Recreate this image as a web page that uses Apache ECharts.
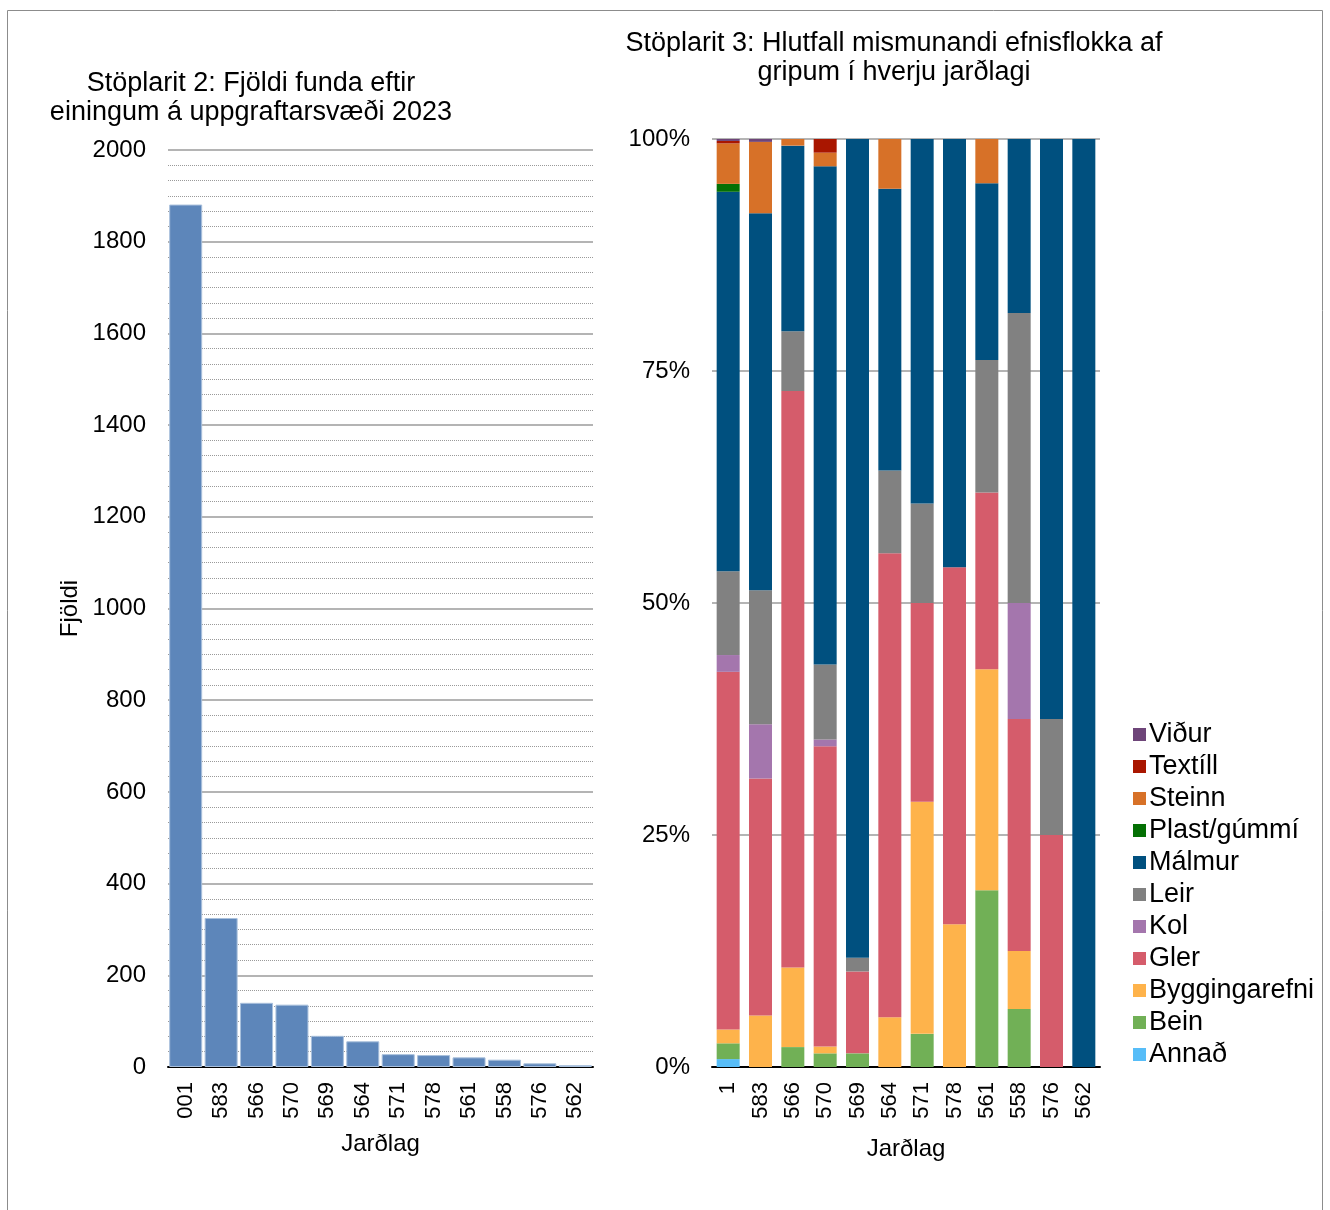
<!DOCTYPE html>
<html>
<head>
<meta charset="utf-8">
<script src="https://cdn.jsdelivr.net/npm/echarts@6/dist/echarts.min.js"></script>
<style>
html,body{margin:0;padding:0;background:#fff;}
#c{width:1330px;height:1210px;}
</style>
</head>
<body>
<div id="c"></div>
<script>
// ---- Chart 2: count of finds per layer ----
const layersLeft = ['001','583','566','570','569','564','571','578','561','558','576','562'];
const countsLeft = [1881, 325, 140, 136, 68, 56, 28, 26, 21, 16, 8, 4];

// ---- Chart 3: share of material categories per layer (counts -> %) ----
const layersRight = ['1','583','566','570','569','564','571','578','561','558','576','562'];
const annad        = [16, 0, 0, 0, 0, 0, 0, 0, 0, 0, 0, 0];
const bein         = [32, 0, 3, 2, 1, 0, 1, 0, 4, 1, 0, 0];
const byggingarefni= [28, 18, 12, 1, 0, 3, 7, 4, 5, 1, 0, 0];
const gler         = [725, 83, 87, 44, 6, 28, 6, 10, 4, 4, 2, 0];
const kol          = [34, 19, 0, 1, 0, 0, 0, 0, 0, 2, 0, 0];
const leir         = [170, 47, 9, 11, 1, 5, 3, 0, 3, 5, 1, 0];
const malmur       = [769, 132, 28, 73, 60, 17, 11, 12, 4, 3, 5, 4];
const plast        = [16, 0, 0, 0, 0, 0, 0, 0, 0, 0, 0, 0];
const steinn       = [82, 25, 1, 2, 0, 3, 0, 0, 1, 0, 0, 0];
const textill      = [5, 0, 0, 2, 0, 0, 0, 0, 0, 0, 0, 0];
const vidur        = [4, 1, 0, 0, 0, 0, 0, 0, 0, 0, 0, 0];

const yTicksLeft = {min: 0, max: 2000, interval: 200};
const yTicksRight = {min: 0, max: 100, interval: 25};

const materials = [
  {name:'Annað', data:annad, color:'#57bdf8'},
  {name:'Bein', data:bein, color:'#71b056'},
  {name:'Byggingarefni', data:byggingarefni, color:'#feb34b'},
  {name:'Gler', data:gler, color:'#d55c6b'},
  {name:'Kol', data:kol, color:'#a476ad'},
  {name:'Leir', data:leir, color:'#818181'},
  {name:'Málmur', data:malmur, color:'#00507f'},
  {name:'Plast/gúmmí', data:plast, color:'#047004'},
  {name:'Steinn', data:steinn, color:'#d77128'},
  {name:'Textíll', data:textill, color:'#a91600'},
  {name:'Viður', data:vidur, color:'#6e4579'}
];
const totals = layersRight.map((_, i) => materials.reduce((s, m) => s + m.data[i], 0));

const FONT = '"Liberation Sans", Arial, sans-serif';
const chart = echarts.init(document.getElementById('c'));

const rightSeries = materials.map(m => ({
  name: m.name,
  type: 'bar',
  stack: 'pct',
  xAxisIndex: 1,
  yAxisIndex: 1,
  barWidth: 23,
  itemStyle: {color: m.color},
  data: m.data.map((v, i) => +(v / totals[i] * 100).toFixed(3))
}));

chart.setOption({
  animation: false,
  textStyle: {fontFamily: FONT, color: '#000'},
  title: [
    {text: 'Stöplarit 2: Fjöldi funda eftir\neiningum á uppgraftarsvæði 2023', left: 246, top: 64, textAlign: 'center',
     textStyle: {fontFamily: FONT, fontSize: 27, fontWeight: 'normal', color: '#000', lineHeight: 29}},
    {text: 'Stöplarit 3: Hlutfall mismunandi efnisflokka af\ngripum í hverju jarðlagi', left: 889, top: 24, textAlign: 'center',
     textStyle: {fontFamily: FONT, fontSize: 27, fontWeight: 'normal', color: '#000', lineHeight: 29}}
  ],
  graphic: [{
    type: 'rect', shape: {x: 7.5, y: 10.5, width: 1315, height: 1215},
    style: {fill: 'none', stroke: '#8c8c8c', lineWidth: 1}, silent: true
  }],
  legend: {
    orient: 'vertical', left: 1128, top: 716,
    itemWidth: 13, itemHeight: 13, itemGap: 5, icon: 'rect',
    textStyle: {fontFamily: FONT, fontSize: 27, color: '#000', lineHeight: 26, padding: [0,0,0,-2]},
    data: ['Viður','Textíll','Steinn','Plast/gúmmí','Málmur','Leir','Kol','Gler','Byggingarefni','Bein','Annað']
  },
  grid: [
    {left: 168, top: 150, width: 425, height: 917},
    {left: 712, top: 139, width: 388, height: 928}
  ],
  xAxis: [
    {type: 'category', gridIndex: 0, data: layersLeft,
     axisLine: {lineStyle: {color: '#000', width: 2}}, axisTick: {show: false},
     axisLabel: {rotate: 90, fontSize: 22, color: '#000', margin: 15, fontFamily: FONT},
     name: 'Jarðlag', nameLocation: 'middle', nameGap: 65,
     nameTextStyle: {fontSize: 24, color: '#000', fontFamily: FONT}},
    {type: 'category', gridIndex: 1, data: layersRight,
     axisLine: {lineStyle: {color: '#000', width: 2}}, axisTick: {show: false},
     axisLabel: {rotate: 90, fontSize: 22, color: '#000', margin: 15, fontFamily: FONT},
     name: 'Jarðlag', nameLocation: 'middle', nameGap: 70,
     nameTextStyle: {fontSize: 24, color: '#000', fontFamily: FONT}}
  ],
  yAxis: [
    {type: 'value', gridIndex: 0, min: yTicksLeft.min, max: yTicksLeft.max, interval: yTicksLeft.interval,
     axisLine: {show: false}, axisTick: {show: false},
     axisLabel: {fontSize: 24, color: '#000', margin: 22, fontFamily: FONT, formatter: v => String(v)},
     splitLine: {lineStyle: {color: '#b4b4b4', width: 2}},
     minorTick: {show: false, splitNumber: 6},
     minorSplitLine: {show: true, lineStyle: {color: '#9a9a9a', width: 1, type: [1, 1]}},
     name: 'Fjöldi', nameLocation: 'middle', nameRotate: 90, nameGap: 86,
     nameTextStyle: {fontSize: 24, color: '#000', fontFamily: FONT}},
    {type: 'value', gridIndex: 1, min: yTicksRight.min, max: yTicksRight.max, interval: yTicksRight.interval,
     axisLine: {show: false}, axisTick: {show: false},
     axisLabel: {fontSize: 24, color: '#000', margin: 22, formatter: '{value}%', fontFamily: FONT},
     splitLine: {lineStyle: {color: '#b4b4b4', width: 2}}}
  ],
  series: [
    {name: 'Fjöldi', type: 'bar', xAxisIndex: 0, yAxisIndex: 0, barWidth: 33,
     itemStyle: {color: '#5d86ba', borderColor: '#a9c0dc', borderWidth: 1},
     data: countsLeft}
  ].concat(rightSeries)
});
</script>
</body>
</html>
